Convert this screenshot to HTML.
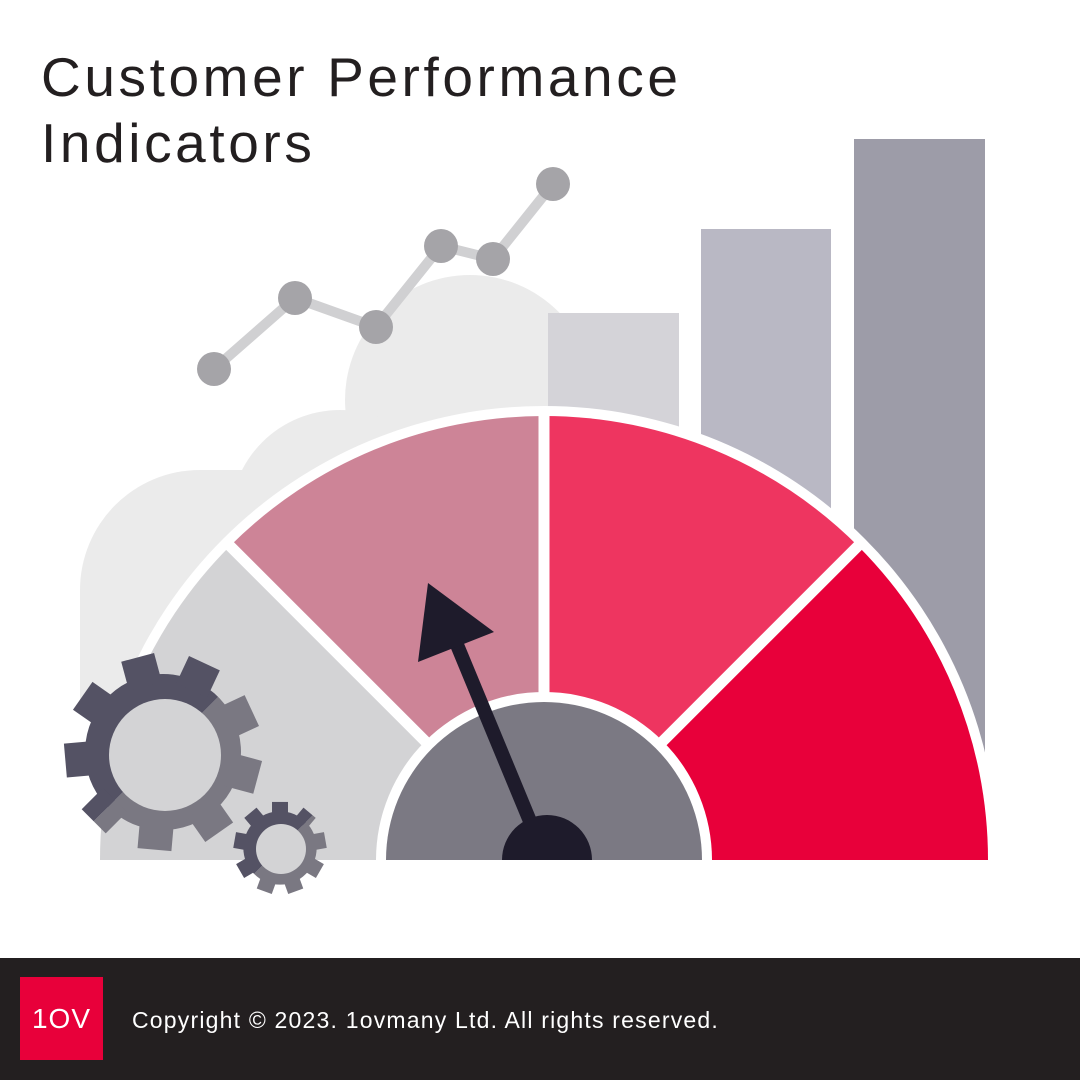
<!DOCTYPE html>
<html><head><meta charset="utf-8"><style>
html,body{margin:0;padding:0;background:#fff;}
body{width:1080px;height:1080px;position:relative;overflow:hidden;font-family:"Liberation Sans",sans-serif;}
.title{position:absolute;left:41px;top:44px;font-size:55px;line-height:66px;color:#231f20;letter-spacing:3.6px;}
.footer{position:absolute;left:0;top:958px;width:1080px;height:122px;background:#231f20;}
.logo{position:absolute;left:20px;top:19px;width:83px;height:83px;background:#e8003a;color:#fff;font-size:28px;text-align:center;line-height:83px;letter-spacing:1px;}
.copy{position:absolute;left:132px;top:49px;color:#fff;font-size:23px;letter-spacing:1.2px;}
</style></head><body>
<svg width="1080" height="958" style="position:absolute;left:0;top:0">
<g fill="#ebebeb">
<circle cx="200" cy="590" r="120"/>
<circle cx="470" cy="400" r="125"/>
<circle cx="340" cy="520" r="110"/>
<rect x="200" y="470" width="350" height="240"/>
<rect x="80" y="590" width="200" height="120"/>
</g>
<rect x="548" y="313" width="131" height="547" fill="#d4d3d8"/>
<rect x="701" y="229" width="130" height="631" fill="#b9b8c4"/>
<rect x="854" y="139" width="131" height="721" fill="#9d9ca8"/>
<polyline points="214,369 295,298 376,327 441,246 493,259 553,184" fill="none" stroke="#d0d0d2" stroke-width="10"/>
<g fill="#a5a4a8">
<circle cx="214" cy="369" r="17"/><circle cx="295" cy="298" r="17"/><circle cx="376" cy="327" r="17"/>
<circle cx="441" cy="246" r="17"/><circle cx="493" cy="259" r="17"/><circle cx="553" cy="184" r="17"/>
</g>
<path d="M90,860 A454,454 0 0 1 998,860 Z" fill="#fff"/>
<path d="M544,860 L100,860 A444,444 0 0 1 230,546 Z" fill="#d3d3d5"/>
<path d="M544,860 L230,546 A444,444 0 0 1 544,416 Z" fill="#cd8497"/>
<path d="M544,860 L544,416 A444,444 0 0 1 858,546 Z" fill="#ee3560"/>
<path d="M544,860 L858,546 A444,444 0 0 1 988,860 Z" fill="#e8003a"/>
<g stroke="#fff" stroke-width="11">
<line x1="544" y1="860" x2="225" y2="541"/>
<line x1="544" y1="860" x2="544" y2="410"/>
<line x1="544" y1="860" x2="863" y2="541"/>
</g>
<rect x="80" y="860" width="930" height="20" fill="#fff"/>
<path d="M376,860 A168,168 0 0 1 712,860 Z" fill="#fff"/>
<path d="M386,860 A158,158 0 0 1 702,860 Z" fill="#7b7983"/>
<line x1="544" y1="855" x2="455" y2="640" stroke="#1e1b2b" stroke-width="14"/>
<polygon points="428,583 418,662 494,632" fill="#1e1b2b"/>
<path d="M502,860 A45,45 0 0 1 592,860 Z" fill="#1e1b2b"/>
<defs>
<clipPath id="tl"><polygon points="-200,-200 200,-200 -200,200"/></clipPath>
<clipPath id="br"><polygon points="200,-200 200,200 -200,200"/></clipPath>
<g id="gear">
<circle r="78"/>
<g>
<rect x="-17" y="-98" width="34" height="30" transform="rotate(0)"/>
<rect x="-17" y="-98" width="34" height="30" transform="rotate(40)"/>
<rect x="-17" y="-98" width="34" height="30" transform="rotate(80)"/>
<rect x="-17" y="-98" width="34" height="30" transform="rotate(120)"/>
<rect x="-17" y="-98" width="34" height="30" transform="rotate(160)"/>
<rect x="-17" y="-98" width="34" height="30" transform="rotate(200)"/>
<rect x="-17" y="-98" width="34" height="30" transform="rotate(240)"/>
<rect x="-17" y="-98" width="34" height="30" transform="rotate(280)"/>
<rect x="-17" y="-98" width="34" height="30" transform="rotate(320)"/>
</g>
</g>
</defs>
<g transform="translate(163,752)">
<g clip-path="url(#br)"><use href="#gear" fill="#7a7882" transform="rotate(-15)"/></g>
<g clip-path="url(#tl)"><use href="#gear" fill="#545264" transform="rotate(-15)"/></g>
</g>
<circle cx="165" cy="755" r="56" fill="#d3d3d5"/>
<g transform="translate(280,848) scale(0.47)">
<g clip-path="url(#br)"><use href="#gear" fill="#7a7882"/></g>
<g clip-path="url(#tl)"><use href="#gear" fill="#545264"/></g>
</g>
<circle cx="281" cy="849" r="25" fill="#d3d3d5"/>
</svg>
<div class="title">Customer Performance<br>Indicators</div>
<div class="footer"><div class="logo">1OV</div><div class="copy">Copyright © 2023. 1ovmany Ltd. All rights reserved.</div></div>
</body></html>
